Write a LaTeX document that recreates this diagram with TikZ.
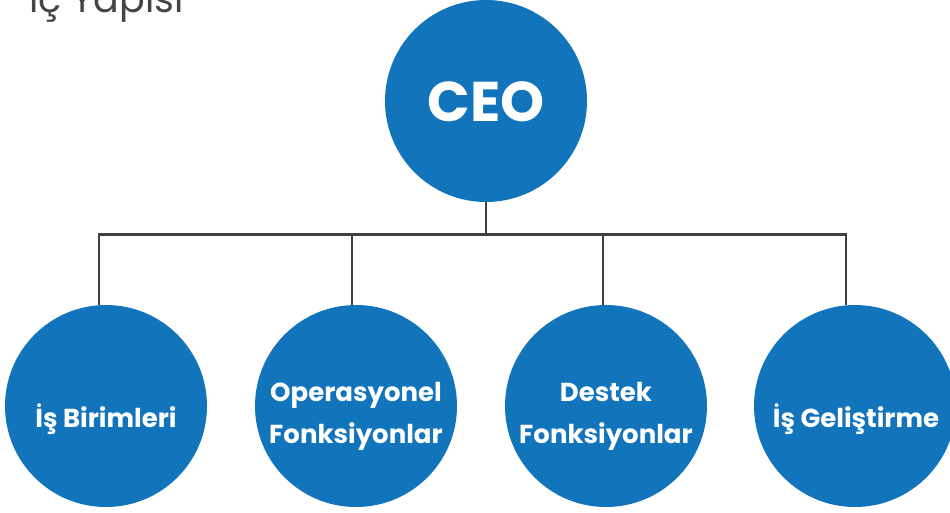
\documentclass[tikz,border=0pt]{standalone}
\usepackage{fontspec}
\setmainfont{Poppins}
\definecolor{orgblue}{HTML}{1274BB}
\definecolor{linegray}{HTML}{404040}
\definecolor{titlegray}{HTML}{444444}
\begin{document}
\begin{tikzpicture}[x=1pt,y=-1pt,
  unit/.style={circle,fill=orgblue,minimum size=202pt,inner sep=0pt},
  lbl/.style={text=white,font=\bfseries\fontsize{26}{42}\selectfont,align=center},
  conn/.style={draw=linegray,line width=2.8pt,line join=miter}]
\useasboundingbox (0,0) rectangle (950,512);
% title (cut at the top edge, as in the reference)
\node[anchor=base west,text=titlegray,inner sep=0pt,font=\fontsize{38}{44}\selectfont] (title) at (29,12) {İç Yapısı};
% circles
\node[unit] (ceo) at (486,101) {};
\node[text=white,font=\bfseries\fontsize{56}{60}\selectfont] (ceot) at (486,102) {CEO};
\node[unit] (u1) at (106,406) {};
\node[unit] (u2) at (356,406) {};
\node[unit] (u3) at (606,406) {};
\node[unit] (u4) at (855,406) {};
\node[lbl,anchor=base] (t1) at (106,427) {İş Birimleri};
\node[lbl] (t2) at (356,416) {Operasyonel\\Fonksiyonlar};
\node[lbl] (t3) at (606,416) {Destek\\Fonksiyonlar};
\node[lbl,anchor=base] (t4) at (856,427) {İş Geliştirme};
% connectors
\coordinate (busc) at (486,234.5);
\coordinate (d1) at (99,234.5);
\coordinate (d2) at (352,234.5);
\coordinate (d3) at (603,234.5);
\coordinate (d4) at (846,234.5);
\draw[conn] (ceo.south) -- (busc);
\draw[conn] (d1 |- u1.north) -- (d1) -- (d4) -- (d4 |- u4.north);
\draw[conn] (d2) -- (d2 |- u2.north);
\draw[conn] (d3) -- (d3 |- u3.north);
\end{tikzpicture}
\end{document}
